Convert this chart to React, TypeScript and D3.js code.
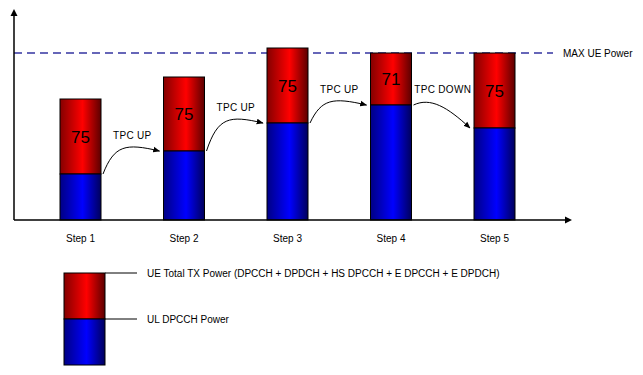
import React from "react";
import * as d3 from "d3";

const steps = ["Step 1", "Step 2", "Step 3", "Step 4", "Step 5"];
const totalPower = [121, 143, 172, 167, 167];
const dpcchPower = [46, 69, 97, 115, 92];
const redLabels = ["75", "75", "75", "71", "75"];
const tpcLabels = ["TPC UP", "TPC UP", "TPC UP", "TPC DOWN"];
const maxUePower = 167;
const maxLabel = "MAX UE Power";
const legendItems = [
  "UE Total TX Power (DPCCH + DPDCH + HS DPCCH + E DPCCH + E DPDCH)",
  "UL DPCCH Power",
];

const W = 643;
const H = 375;
const FONT = "Arial, 'Liberation Sans', sans-serif";

export default function App() {
  const x0 = 14;
  const yBase = 220;
  const y = d3.scaleLinear().domain([0, 210]).range([yBase, 10]);
  const x = d3.scalePoint<string>().domain(steps).range([80.5, 494.5]);
  const bw = 41;

  const bars = steps.map((s, i) => {
    const cx = x(s) as number;
    return {
      s,
      cx,
      left: cx - bw / 2,
      right: cx + bw / 2,
      top: y(totalPower[i]),
      mid: y(dpcchPower[i]),
    };
  });

  const arrows = tpcLabels.map((label, i) => {
    const a = bars[i];
    const b = bars[i + 1];
    const sx = a.right + 2;
    const sy = a.mid;
    const ex = b.left - 4;
    const ey = b.mid;
    const dx = ex - sx;
    let path: string;
    if (ey <= sy) {
      path = `M${sx},${sy} C${sx + 0.2 * dx},${ey - 6} ${sx + 0.4 * dx},${ey - 8} ${ex},${ey}`;
    } else {
      path = `M${sx},${sy} C${sx + 0.3 * dx},${sy - 8} ${sx + 0.6 * dx},${sy + 2} ${ex},${ey}`;
    }
    return {
      label,
      path,
      tx: (a.right + b.left) / 2,
      ty: Math.min(sy, ey) - 16,
    };
  });

  const lg = { x: 64, top: 273, mid: 319, bottom: 365, w: 41 };

  return (
    <svg width={W} height={H} style={{ position: "absolute", left: 0, top: 0, background: "#fff" }}>
      <defs>
        <linearGradient id="gRed" x1="0" x2="1" y1="0" y2="0">
          <stop offset="0" stopColor="#840000" />
          <stop offset="0.55" stopColor="#ff0000" />
          <stop offset="1" stopColor="#5c0000" />
        </linearGradient>
        <linearGradient id="gBlue" x1="0" x2="1" y1="0" y2="0">
          <stop offset="0" stopColor="#000084" />
          <stop offset="0.55" stopColor="#0000ff" />
          <stop offset="1" stopColor="#00005c" />
        </linearGradient>
        <marker id="ah" viewBox="0 0 10 10" refX="9" refY="5" markerWidth="7" markerHeight="7" orient="auto" markerUnits="userSpaceOnUse">
          <path d="M0,1 L10,5 L0,9 Z" fill="#000" />
        </marker>
      </defs>

      {/* max UE power dashed line */}
      <line x1={x0} x2={553} y1={y(maxUePower)} y2={y(maxUePower)} stroke="#6666b8" strokeWidth={2} strokeDasharray="8,5" />
      <text x={563} y={y(maxUePower)} dy="0.35em" fontFamily={FONT} fontSize={10} fill="#000">{maxLabel}</text>

      {/* bars */}
      {bars.map((b, i) => (
        <g key={b.s}>
          <rect x={b.left} y={b.top} width={bw} height={b.mid - b.top} fill="url(#gRed)" stroke="#000" strokeWidth={1} />
          <rect x={b.left} y={b.mid} width={bw} height={yBase - b.mid} fill="url(#gBlue)" stroke="#000" strokeWidth={1} />
          <text x={b.cx} y={(b.top + b.mid) / 2} dy="0.36em" textAnchor="middle" fontFamily={FONT} fontSize={17} fill="#000">{redLabels[i]}</text>
          <text x={b.cx} y={238} dy="0.35em" textAnchor="middle" fontFamily={FONT} fontSize={10} fill="#000">{b.s}</text>
        </g>
      ))}

      {/* axes */}
      <line x1={x0} x2={x0} y1={yBase} y2={14} stroke="#000" strokeWidth={1.5} />
      <path d={`M${x0},9 L${x0 - 3.5},16 L${x0 + 3.5},16 Z`} fill="#000" />
      <line x1={x0} x2={567} y1={yBase} y2={yBase} stroke="#000" strokeWidth={1.5} />
      <path d={`M572,${yBase} L565,${yBase - 3.5} L565,${yBase + 3.5} Z`} fill="#000" />

      {/* TPC arrows */}
      {arrows.map((a, i) => (
        <g key={i}>
          <path d={a.path} fill="none" stroke="#000" strokeWidth={1} markerEnd="url(#ah)" />
          <text x={a.tx} y={a.ty} dy="0.35em" textAnchor="middle" fontFamily={FONT} fontSize={10} fill="#000" letterSpacing="0.3">{a.label}</text>
        </g>
      ))}

      {/* legend */}
      <rect x={lg.x} y={lg.top} width={lg.w} height={lg.mid - lg.top} fill="url(#gRed)" stroke="#000" strokeWidth={1} />
      <rect x={lg.x} y={lg.mid} width={lg.w} height={lg.bottom - lg.mid} fill="url(#gBlue)" stroke="#000" strokeWidth={1} />
      {[lg.top, lg.mid].map((yy, i) => (
        <g key={i}>
          <line x1={lg.x + lg.w} x2={137} y1={yy} y2={yy} stroke="#000" strokeWidth={1} />
          <text x={147} y={yy} dy="0.35em" fontFamily={FONT} fontSize={10} fill="#000">{legendItems[i]}</text>
        </g>
      ))}
    </svg>
  );
}
